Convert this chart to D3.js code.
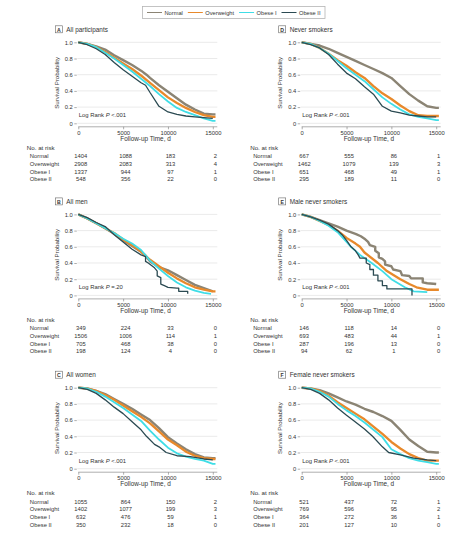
<!DOCTYPE html>
<html><head><meta charset="utf-8">
<script src="https://cdn.jsdelivr.net/npm/d3@7"></script>
<style>
html,body{margin:0;padding:0;background:#fff;}
svg text{font-family:"Liberation Sans",Arial,sans-serif;fill:#333;}
</style></head>
<body><svg id="c" width="467" height="534"></svg>
<script>
// ---------- DATA ----------
const seriesNames = ["Normal","Overweight","Obese I","Obese II"];
const seriesColors = ["#8b8474","#e8892b","#3fdde6","#2b4a52"];
const seriesWidths = [2.4,2.3,1.8,1.3];
const panelLetters = ["A","B","C","D","E","F"];
const panelTitles = ["All participants","All men","All women","Never smokers","Male never smokers","Female never smokers"];
const panelP = ["<.001","=.20","<.001","<.001","<.001","<.001"];
const xTicks = [0,5000,10000,15000];
const yTicks = [0,0.2,0.4,0.6,0.8,1.0];

// survival curves [time (d), survival probability]
const A_normal = [[0,1],[1000,0.98],[2000,0.95],[3000,0.91],[4000,0.84],[5000,0.78],[6000,0.72],[7000,0.65],[7600,0.60],[8000,0.56],[9000,0.47],[10000,0.39],[11000,0.31],[12000,0.23],[13000,0.17],[14000,0.12],[15000,0.11],[15300,0.11]];
const A_over = [[0,1],[1000,0.98],[2000,0.94],[3000,0.88],[4000,0.81],[5000,0.74],[6000,0.67],[7000,0.59],[8000,0.50],[9000,0.41],[10000,0.32],[11000,0.25],[12000,0.19],[13000,0.14],[14000,0.10],[15000,0.08],[15300,0.08]];
const A_ob1 = [[0,1],[1000,0.98],[2000,0.94],[3000,0.87],[4000,0.80],[5000,0.72],[6000,0.64],[7000,0.55],[8000,0.46],[9000,0.36],[10000,0.27],[11000,0.19],[12000,0.14],[13000,0.10],[14000,0.06],[15000,0.03],[15300,0.03]];
const A_ob2 = [[0,1],[1000,0.97],[2000,0.92],[3000,0.85],[4000,0.75],[5000,0.66],[6000,0.58],[7000,0.50],[7500,0.47],[8000,0.38],[9000,0.21],[10000,0.14],[11000,0.11],[12000,0.09],[13000,0.08],[14000,0.07],[15000,0.06]];

const B_normal = [[0,1],[1000,0.95],[2000,0.89],[3000,0.83],[4000,0.76],[5000,0.68],[6000,0.61],[7000,0.54],[7500,0.49],[8000,0.42],[9000,0.35],[10000,0.31],[11000,0.25],[12000,0.19],[13000,0.13],[14000,0.09],[15000,0.05]];
const B_over = [[0,1],[1000,0.95],[2000,0.89],[3000,0.83],[4000,0.77],[5000,0.69],[6000,0.62],[7000,0.54],[8000,0.44],[9000,0.36],[10000,0.28],[11000,0.21],[12000,0.15],[13000,0.10],[14000,0.07],[15000,0.05],[15300,0.05]];
const B_ob1 = [[0,1],[1000,0.95],[2000,0.89],[3000,0.83],[4000,0.77],[5000,0.70],[6000,0.64],[7000,0.56],[8000,0.43],[9000,0.33],[10000,0.24],[11000,0.16],[12000,0.10],[13000,0.06],[14000,0.03],[14800,0.02]];
const B_ob2 = [[0,1],[1000,0.96],[2000,0.90],[3000,0.85],[4000,0.75],[5000,0.66],[6000,0.57],[7000,0.50],[7500,0.48],[7500,0.42],[7800,0.40],[8500,0.34],[8800,0.30],[8800,0.24],[9200,0.22],[9200,0.14],[9600,0.12],[10000,0.10],[11000,0.09],[11200,0.09],[11200,0.05],[12200,0.05],[12200,0.02]];

const C_normal = [[0,1],[1000,0.99],[2000,0.96],[3000,0.92],[4000,0.86],[5000,0.80],[6000,0.74],[7000,0.67],[8000,0.60],[9000,0.50],[10000,0.39],[11000,0.31],[12000,0.24],[13000,0.18],[14000,0.14],[15000,0.13],[15300,0.13]];
const C_over = [[0,1],[1000,0.99],[2000,0.96],[3000,0.91],[4000,0.85],[5000,0.78],[6000,0.71],[7000,0.64],[8000,0.56],[9000,0.46],[10000,0.36],[11000,0.29],[12000,0.21],[13000,0.16],[14000,0.13],[15000,0.12],[15300,0.12]];
const C_ob1 = [[0,1],[1000,0.99],[2000,0.95],[3000,0.89],[4000,0.82],[5000,0.75],[6000,0.67],[7000,0.59],[8000,0.47],[9000,0.36],[10000,0.26],[11000,0.19],[12000,0.15],[13000,0.12],[14000,0.10],[15000,0.06],[15300,0.06]];
const C_ob2 = [[0,1],[1000,0.98],[2000,0.93],[3000,0.85],[4000,0.76],[5000,0.68],[6000,0.58],[7000,0.48],[7600,0.40],[8500,0.30],[9000,0.27],[9800,0.20],[11000,0.16],[12500,0.15],[14000,0.12],[15000,0.11]];

const D_normal = [[0,1],[1000,0.98],[2000,0.96],[3000,0.92],[4000,0.87],[5000,0.82],[6000,0.77],[7000,0.72],[8000,0.67],[9000,0.62],[10000,0.56],[11000,0.46],[12000,0.36],[13000,0.28],[14000,0.21],[15000,0.19],[15300,0.19]];
const D_over = [[0,1],[1000,0.98],[2000,0.93],[3000,0.86],[4000,0.78],[5000,0.71],[6000,0.63],[7000,0.56],[8000,0.46],[9000,0.37],[10000,0.30],[11000,0.22],[12000,0.15],[13000,0.10],[14000,0.09],[15000,0.09],[15300,0.09]];
const D_ob1 = [[0,1],[1000,0.98],[2000,0.93],[3000,0.86],[4000,0.77],[5000,0.68],[6000,0.60],[7000,0.52],[8000,0.42],[9000,0.32],[10000,0.24],[11000,0.17],[12000,0.11],[13000,0.08],[14000,0.06],[15000,0.04],[15300,0.04]];
const D_ob2 = [[0,1],[1000,0.97],[2000,0.93],[3000,0.85],[4000,0.73],[5000,0.62],[6000,0.55],[7000,0.45],[8000,0.36],[9000,0.21],[10000,0.15],[11000,0.13],[12000,0.10],[13000,0.09],[14000,0.08],[15000,0.08]];

const E_normal = [[0,1],[1000,0.97],[2000,0.93],[3000,0.89],[4000,0.85],[5000,0.80],[6000,0.76],[6600,0.73],[7000,0.70],[7400,0.66],[7600,0.62],[8200,0.60],[8200,0.55],[8600,0.52],[8600,0.47],[9000,0.45],[9300,0.42],[9300,0.38],[10000,0.36],[10200,0.32],[11000,0.30],[11200,0.25],[12000,0.24],[12200,0.21],[13500,0.21],[13500,0.16],[14000,0.15],[15000,0.14]];
const E_over = [[0,1],[1000,0.97],[2000,0.92],[3000,0.87],[4000,0.80],[5000,0.71],[6000,0.64],[6500,0.60],[7000,0.53],[8500,0.40],[9500,0.30],[11000,0.20],[12000,0.14],[12800,0.10],[14000,0.07],[15300,0.07]];
const E_ob1 = [[0,1],[1000,0.97],[2000,0.92],[3000,0.86],[4000,0.78],[5000,0.66],[5500,0.60],[6500,0.50],[7800,0.40],[9000,0.30],[10000,0.20],[11500,0.10],[12500,0.05],[14000,0.04]];
const E_ob2 = [[0,1],[1000,0.97],[2000,0.93],[3000,0.88],[4000,0.80],[4500,0.75],[5000,0.68],[5500,0.60],[6000,0.55],[6300,0.50],[6500,0.46],[7200,0.46],[7200,0.40],[7600,0.38],[7600,0.32],[8000,0.32],[8000,0.25],[8500,0.25],[8500,0.18],[9000,0.18],[9000,0.12],[9500,0.12],[9500,0.08],[12300,0.08],[12300,0.0]];

const F_normal = [[0,1],[1000,0.99],[2000,0.97],[3000,0.93],[4000,0.88],[5000,0.83],[6000,0.79],[7000,0.74],[8000,0.70],[9000,0.65],[10000,0.59],[11000,0.48],[12000,0.36],[13000,0.28],[14000,0.21],[15000,0.20],[15300,0.20]];
const F_over = [[0,1],[1000,0.99],[2000,0.96],[3000,0.90],[4000,0.82],[5000,0.75],[6000,0.68],[7000,0.61],[8000,0.52],[9000,0.43],[10000,0.33],[11000,0.25],[12000,0.18],[13000,0.13],[14000,0.10],[15000,0.10],[15300,0.10]];
const F_ob1 = [[0,1],[1000,0.99],[2000,0.95],[3000,0.89],[4000,0.80],[5000,0.72],[6000,0.65],[7000,0.57],[8000,0.48],[9000,0.39],[10000,0.24],[11000,0.18],[12000,0.13],[13000,0.10],[14000,0.08],[15000,0.06],[15300,0.06]];
const F_ob2 = [[0,1],[1000,0.98],[2000,0.93],[3000,0.85],[4000,0.75],[5000,0.66],[5700,0.60],[7000,0.49],[7900,0.40],[9000,0.27],[9700,0.20],[11000,0.17],[12500,0.13],[14000,0.11],[15000,0.10]];

// numbers at risk (rows: Normal, Overweight, Obese I, Obese II; columns: 0, 5000, 10000, 15000 d)
const riskA = [[1404,1088,183,2],[2908,2083,313,4],[1337,944,97,1],[548,356,22,0]];
const riskB = [[349,224,33,0],[1506,1006,114,1],[705,468,38,0],[198,124,4,0]];
const riskC = [[1055,864,150,2],[1402,1077,199,3],[632,476,59,1],[350,232,18,0]];
const riskD = [[667,555,86,1],[1462,1079,139,3],[651,468,49,1],[295,189,11,0]];
const riskE = [[146,118,14,0],[693,483,44,1],[287,196,13,0],[94,62,1,0]];
const riskF = [[521,437,72,1],[769,596,95,2],[364,272,36,1],[201,127,10,0]];

const panelCurves = [
  [A_normal,A_over,A_ob1,A_ob2],
  [B_normal,B_over,B_ob1,B_ob2],
  [C_normal,C_over,C_ob1,C_ob2],
  [D_normal,D_over,D_ob1,D_ob2],
  [E_normal,E_over,E_ob1,E_ob2],
  [F_normal,F_over,F_ob1,F_ob2]
];
const panelRisk = [riskA,riskB,riskC,riskD,riskE,riskF];

// ---------- DRAW ----------
const svg = d3.select("#c");
const colLeft = [78.3, 301.7];
const plotW = 134.5;
const plotTops = [42.3, 214.4, 387.7];
const plotH = 81;
const FONT = '"Liberation Sans",Arial,sans-serif';

// legend
const lg = svg.append("g");
const boxX = 142.5, boxW = 182.5;
lg.append("rect").attr("x",boxX).attr("y",6.5).attr("width",boxW).attr("height",12)
  .attr("fill","#fff").attr("stroke","#b5b5b5").attr("stroke-width",0.8);
const legTexts = seriesNames.map(n => lg.append("text").attr("y",14.6).attr("font-size",5.7).text(n));
const lineLen = 15, lgap = 2.5, pad = 4.5;
const tw = legTexts.map(t => t.node().getComputedTextLength());
const used = tw.reduce((a,b)=>a+b,0) + seriesNames.length*(lineLen+lgap) + 2*pad;
const itemGap = (boxW - used)/(seriesNames.length-1);
let cx = boxX + pad;
seriesNames.forEach((n,i)=>{
  lg.append("line").attr("x1",cx).attr("x2",cx+lineLen).attr("y1",12.5).attr("y2",12.5)
    .attr("stroke",seriesColors[i]).attr("stroke-width",1);
  legTexts[i].attr("x",cx+lineLen+lgap);
  cx += lineLen + lgap + tw[i] + itemGap;
});

panelLetters.forEach((L,pi)=>{
  const col = pi < 3 ? 0 : 1;
  const row = pi % 3;
  const x0 = colLeft[col];
  const top = plotTops[row];
  const x = d3.scaleLinear().domain([0,15000]).range([x0, x0+plotW]);
  const y = d3.scaleLinear().domain([0,1]).range([top+plotH, top]);
  const g = svg.append("g");

  // panel label
  const lx = x0 - 23;
  g.append("rect").attr("x",lx).attr("y",top-16.5).attr("width",7).attr("height",7)
    .attr("fill","#fff").attr("stroke","#666").attr("stroke-width",0.6);
  g.append("text").attr("x",lx+3.5).attr("y",top-10.8).attr("text-anchor","middle")
    .attr("font-size",5.2).attr("font-weight","bold").text(L);
  g.append("text").attr("x",lx+11).attr("y",top-10.6).attr("font-size",6.4).text(panelTitles[pi]);

  // grid
  const xEnd = x(15500);
  g.selectAll(".grid").data(yTicks).enter().append("line")
    .attr("x1",x(0)-1).attr("x2",xEnd).attr("y1",d=>y(d)).attr("y2",d=>y(d))
    .attr("stroke","#dcdcdc").attr("stroke-width",0.6);

  // y axis
  const yAx = g.append("g").attr("transform",`translate(${x(0)-1.5},0)`)
    .call(d3.axisLeft(y).tickValues(yTicks).tickFormat(d=>d===0?"0":d3.format(".1f")(d)).tickSize(2.5).tickPadding(1.5));
  yAx.select(".domain").remove();
  yAx.selectAll("line").attr("stroke","#777").attr("stroke-width",0.6);
  yAx.selectAll("text").attr("font-size",5.8).attr("fill","#333").style("font-family",FONT);

  // x axis
  const xAx = g.append("g").attr("transform",`translate(0,${top+plotH+3.5})`)
    .call(d3.axisBottom(x).tickValues(xTicks).tickFormat(d3.format("d")).tickSize(2.5).tickPadding(1.5).tickSizeOuter(0));
  xAx.select(".domain").attr("d",`M${x(0)},0H${xEnd}`).attr("stroke","#777").attr("stroke-width",0.6);
  xAx.selectAll("line").attr("stroke","#777").attr("stroke-width",0.6);
  xAx.selectAll("text").attr("font-size",5.8).attr("fill","#333").style("font-family",FONT);

  // axis titles
  g.append("text").attr("transform",`translate(${x0-19.5},${top+plotH/2}) rotate(-90)`)
    .attr("text-anchor","middle").attr("font-size",6.1).text("Survival Probability");
  g.append("text").attr("x",x(7500)).attr("y",top+plotH+17.5).attr("text-anchor","middle")
    .attr("font-size",6.4).text("Follow-up Time, d");

  // log-rank
  const lt = g.append("text").attr("x",x(0)+0.5).attr("y",top+plotH-6).attr("font-size",5.9);
  lt.append("tspan").text("Log Rank ");
  lt.append("tspan").attr("font-style","italic").text("P");
  lt.append("tspan").text(" " + panelP[pi]);

  // curves
  panelCurves[pi].forEach((pts,si)=>{
    const line = d3.line().x(d=>x(d[0])).y(d=>y(d[1])).curve(d3.curveLinear);
    g.append("path").datum(pts).attr("d",line).attr("fill","none")
      .attr("stroke",seriesColors[si]).attr("stroke-width",seriesWidths[si])
      .attr("stroke-linejoin","round");
  });

  // risk table
  const tTop = top + plotH + 26.5;
  g.append("text").attr("x",x0-51.5).attr("y",tTop).attr("font-size",6.2).text("No. at risk");
  panelRisk[pi].forEach((r,ri)=>{
    const ry = tTop + 8.3 + ri*7.7;
    g.append("text").attr("x",x0-48.5).attr("y",ry).attr("font-size",5.8).text(seriesNames[ri]);
    r.forEach((v,ci)=>{
      g.append("text").attr("x",x(xTicks[ci])+2.5).attr("y",ry).attr("text-anchor","middle")
        .attr("font-size",5.8).text(v);
    });
  });
});
</script></body></html>
